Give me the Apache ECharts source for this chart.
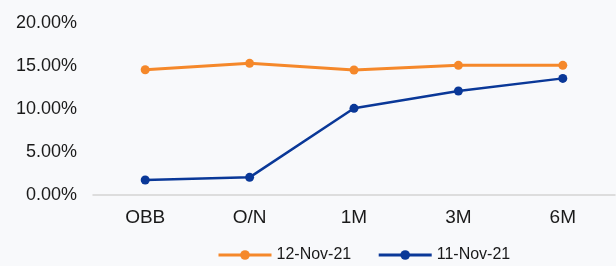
<!DOCTYPE html>
<html>
<head>
<meta charset="utf-8">
<script src="https://cdn.jsdelivr.net/npm/echarts@6/dist/echarts.min.js"></script>
<style>
  html, body { margin: 0; padding: 0; background: #f8f9fb; }
  #chart { width: 616px; height: 266px; }
</style>
</head>
<body>
<div id="chart"></div>
<script>
// tenors on the x axis
var categories = ["OBB", "O/N", "1M", "3M", "6M"];
// rates in percent
var nov12 = [14.57, 15.31, 14.53, 15.08, 15.08];
var nov11 = [1.74, 2.05, 10.08, 12.09, 13.56];
var seriesNames = ["12-Nov-21", "11-Nov-21"];

var chart = echarts.init(document.getElementById("chart"));

chart.setOption({
  backgroundColor: "#f8f9fb",
  animation: false,
  textStyle: { fontFamily: "Liberation Sans, Arial, sans-serif", color: "#1a1a1a" },
  grid: { left: 93, right: 1, top: 23, bottom: 71 },
  legend: {
    left: 212,
    top: 242,
    itemWidth: 53,
    itemHeight: 12,
    itemGap: 26,
    lineStyle: { width: 3 },
    textStyle: { fontSize: 16, color: "#1a1a1a" },
    data: seriesNames
  },
  xAxis: {
    type: "category",
    data: categories,
    boundaryGap: true,
    axisLine: { lineStyle: { color: "#d4d4d4", width: 1.5 } },
    axisTick: { length: 5, lineStyle: { color: "#d4d4d4" } },
    axisLabel: { fontSize: 19, color: "#1a1a1a", margin: 13 }
  },
  yAxis: {
    type: "value",
    min: 0,
    max: 20,
    interval: 5,
    axisLine: { show: false },
    axisTick: { show: false },
    splitLine: { show: false },
    axisLabel: {
      fontSize: 18,
      color: "#1a1a1a",
      margin: 16,
      formatter: function (v) { return v.toFixed(2) + "%"; }
    }
  },
  series: [
    {
      name: seriesNames[0],
      type: "line",
      data: nov12,
      symbol: "circle",
      symbolSize: 9,
      color: "#f5882a",
      lineStyle: { width: 3 }
    },
    {
      name: seriesNames[1],
      type: "line",
      data: nov11,
      symbol: "circle",
      symbolSize: 9,
      color: "#0a3898",
      lineStyle: { width: 2.5 }
    }
  ]
});
</script>
</body>
</html>
